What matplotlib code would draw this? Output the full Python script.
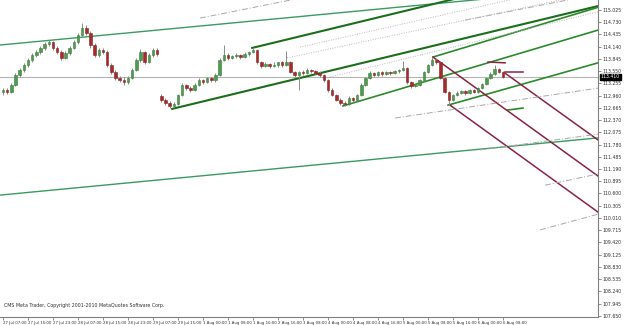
import matplotlib
matplotlib.use('Agg')
import matplotlib.pyplot as plt
import numpy as np

# ---- candle data (H1 bars, oldest first) ----
opens = [113.05, 113.10, 113.05, 113.22, 113.46, 113.58, 113.70, 113.82, 113.94, 114.01,
         114.11, 114.21, 114.25, 114.11, 114.01, 113.87, 113.99, 114.11, 114.25, 114.42,
         114.59, 114.47, 114.18, 113.94, 114.06, 114.01, 113.70, 113.53, 113.39, 113.34,
         113.29, 113.39, 113.58, 113.82, 114.01, 113.77, 113.94, 114.06, 112.95, 112.85,
         112.78, 112.71, 112.76, 112.97, 113.22, 113.14, 113.10, 113.22, 113.34, 113.29,
         113.39, 113.34, 113.46, 113.82, 113.94, 113.87, 113.92, 113.94, 113.89, 113.96,
         114.01, 114.06, 113.77, 113.67, 113.72, 113.67, 113.70, 113.77, 113.70, 113.77,
         113.53, 113.46, 113.53, 113.51, 113.58, 113.55, 113.51, 113.46, 113.34, 113.10,
         112.97, 112.85, 112.78, 112.76, 112.90, 112.85, 112.97, 113.22, 113.39, 113.51,
         113.46, 113.53, 113.48, 113.53, 113.51, 113.55, 113.58, 113.63, 113.29, 113.19,
         113.22, 113.34, 113.53, 113.70, 113.82, 113.77, 113.39, 113.05, 112.85, 112.97,
         113.02, 113.07, 113.02, 113.10, 113.05, 113.14, 113.24, 113.39, 113.48, 113.60,
         113.53]
highs = [113.14, 113.15, 113.26, 113.50, 113.62, 113.74, 113.86, 113.98, 114.05, 114.15,
         114.25, 114.30, 114.28, 114.16, 114.05, 114.03, 114.15, 114.30, 114.48, 114.71,
         114.66, 114.52, 114.22, 114.12, 114.10, 114.05, 113.74, 113.58, 113.44, 113.40,
         113.44, 113.62, 113.86, 114.08, 114.04, 113.98, 114.12, 114.10, 113.00, 112.90,
         112.82, 112.80, 113.00, 113.26, 113.25, 113.18, 113.26, 113.38, 113.37, 113.42,
         113.42, 113.50, 113.86, 114.18, 113.98, 113.95, 113.98, 113.96, 114.00, 114.04,
         114.12, 114.08, 113.80, 113.76, 113.75, 113.76, 113.78, 113.80, 114.04, 113.80,
         113.56, 113.55, 113.58, 113.62, 113.60, 113.58, 113.55, 113.49, 113.37, 113.14,
         113.00, 112.90, 112.84, 112.94, 112.93, 113.00, 113.26, 113.42, 113.55, 113.54,
         113.56, 113.56, 113.56, 113.55, 113.58, 113.60, 113.79, 113.66, 113.32, 113.25,
         113.37, 113.55, 113.72, 113.89, 113.85, 113.80, 113.42, 113.08, 112.99, 113.06,
         113.10, 113.10, 113.12, 113.12, 113.17, 113.27, 113.42, 113.52, 113.70, 113.62,
         113.56]
lows = [112.98, 113.00, 113.02, 113.18, 113.40, 113.52, 113.64, 113.78, 113.88, 113.96,
        114.06, 114.16, 114.05, 113.96, 113.82, 113.84, 113.95, 114.08, 114.20, 114.38,
        114.42, 114.12, 113.88, 113.90, 113.96, 113.65, 113.49, 113.34, 113.28, 113.22,
        113.25, 113.36, 113.55, 113.78, 113.72, 113.74, 113.90, 113.92, 112.80, 112.74,
        112.66, 112.68, 112.74, 112.95, 113.10, 113.05, 113.07, 113.18, 113.25, 113.26,
        113.30, 113.30, 113.44, 113.80, 113.82, 113.84, 113.86, 113.85, 113.86, 113.92,
        113.98, 113.72, 113.62, 113.64, 113.62, 113.64, 113.66, 113.66, 113.68, 113.50,
        113.40, 113.10, 113.46, 113.48, 113.50, 113.48, 113.42, 113.30, 113.05, 112.94,
        112.82, 112.74, 112.71, 112.73, 112.80, 112.82, 112.95, 113.18, 113.36, 113.42,
        113.43, 113.44, 113.45, 113.46, 113.48, 113.50, 113.56, 113.24, 113.14, 113.16,
        113.20, 113.32, 113.50, 113.67, 113.72, 113.36, 113.02, 112.73, 112.82, 112.95,
        113.00, 112.98, 113.00, 113.02, 113.02, 113.12, 113.22, 113.36, 113.46, 113.50,
        113.38]
closes = [113.10, 113.05, 113.22, 113.46, 113.58, 113.70, 113.82, 113.94, 114.01, 114.11,
          114.21, 114.25, 114.11, 114.01, 113.87, 113.99, 114.11, 114.25, 114.42, 114.59,
          114.47, 114.18, 113.94, 114.06, 114.01, 113.70, 113.53, 113.39, 113.34, 113.29,
          113.39, 113.58, 113.82, 114.01, 113.77, 113.94, 114.06, 113.96, 112.85, 112.78,
          112.71, 112.76, 112.97, 113.22, 113.14, 113.10, 113.22, 113.34, 113.29, 113.39,
          113.34, 113.46, 113.82, 113.94, 113.87, 113.92, 113.94, 113.89, 113.96, 114.01,
          114.06, 113.77, 113.67, 113.72, 113.67, 113.70, 113.77, 113.70, 113.77, 113.53,
          113.46, 113.53, 113.51, 113.58, 113.55, 113.51, 113.46, 113.34, 113.10, 112.97,
          112.85, 112.78, 112.76, 112.90, 112.85, 112.97, 113.22, 113.39, 113.51, 113.46,
          113.53, 113.48, 113.53, 113.51, 113.55, 113.58, 113.63, 113.29, 113.19, 113.22,
          113.34, 113.53, 113.70, 113.82, 113.77, 113.39, 113.05, 112.85, 112.97, 113.02,
          113.07, 113.02, 113.10, 113.05, 113.14, 113.24, 113.39, 113.48, 113.60, 113.53,
          113.41]

current_price = 113.41

# time labels, one every 6 bars
time_labels = ["27 Jul 07:00", "27 Jul 15:00", "27 Jul 23:00", "28 Jul 07:00", "28 Jul 15:00",
               "28 Jul 23:00", "29 Jul 07:00", "29 Jul 15:00", "1 Aug 00:00", "1 Aug 08:00",
               "1 Aug 16:00", "2 Aug 16:00", "3 Aug 08:00", "4 Aug 00:00", "4 Aug 08:00",
               "4 Aug 16:00", "5 Aug 00:00", "5 Aug 08:00", "5 Aug 16:00", "6 Aug 00:00",
               "6 Aug 08:00"]
label_step = 6

# price scale labels
price_labels = [115.025, 114.730, 114.435, 114.140, 113.845, 113.550, 113.255, 112.960,
                112.665, 112.370, 112.075, 111.780, 111.485, 111.190, 110.895, 110.600,
                110.305, 110.010, 109.715, 109.420, 109.125, 108.830, 108.535, 108.240,
                107.945, 107.650]

# ---- drawn objects: (bar, price) -> (bar, price) ----
channel_lines = [((-0.7, 114.18), (142.8, 115.55)),
                 ((-0.7, 110.56), (142.8, 111.94))]
fork1_lines = [((40.6, 112.64), (142.8, 115.12)),
               ((59.8, 114.11), (142.8, 116.13))]
fork2_lines = [((81.6, 112.71), (142.8, 114.54)),
               ((103.2, 113.89), (142.8, 115.09)),
               ((106.8, 112.73), (142.8, 113.75)),
               ((121.0, 112.61), (124.8, 112.66))]
red_lines = [((120.5, 113.50), (142.8, 111.89)),
             ((103.2, 113.89), (142.8, 111.02)),
             ((107.3, 112.73), (142.8, 110.15)),
             ((116.4, 113.77), (120.5, 113.75)),
             ((120.5, 113.53), (124.8, 113.53))]
dashdot_lines = [((47.3, 114.83), (71.3, 115.31)),
                 ((110.9, 114.78), (142.8, 115.41)),
                 ((94.1, 112.42), (142.8, 113.14)),
                 ((114.5, 111.65), (142.8, 112.03)),
                 ((130.1, 110.80), (142.8, 111.07)),
                 ((128.9, 109.72), (142.8, 110.10))]
dotted_lines = [((68.2, 113.87), (142.8, 115.46)),
                ((71.3, 114.13), (142.8, 115.75)),
                ((78.5, 113.41), (142.8, 114.98))]

fig = plt.figure(figsize=(6.25, 3.25), dpi=100)
ax = fig.add_axes([0, 8 / 325, 598 / 625, 317 / 325])
ax.set_xlim(-0.72, 142.8)
ax.set_ylim(107.62, 115.266)

# current price line
ax.axhline(current_price, color='#b4b4b4', lw=0.8, zorder=1)

# candles
x = np.arange(len(closes))
o = np.array(opens)
c = np.array(closes)
up = c >= o
ax.vlines(x, lows, highs, color='#8c8c8c', lw=0.7, zorder=3)
ax.bar(x[up], (c - o)[up], bottom=o[up], width=0.6, color='#4e9a4e',
       edgecolor='#3d7d3d', lw=0.4, zorder=4)
ax.bar(x[~up], (o - c)[~up], bottom=c[~up], width=0.6, color='#a52a2a',
       edgecolor='#8a2222', lw=0.4, zorder=4)

def draw(lines, **kw):
    for (b0, p0), (b1, p1) in lines:
        ax.plot([b0, b1], [p0, p1], **kw)

draw(channel_lines, color='#3a9a62', lw=1.0, zorder=2)
draw(fork1_lines, color='#1b6e1b', lw=1.5, zorder=2)
draw(fork2_lines, color='#2b8a2b', lw=1.2, zorder=2)
draw(red_lines, color='#8a2440', lw=1.1, zorder=2)
draw(dashdot_lines, color='#a8a8a8', lw=0.7, ls=(0, (6, 2, 1, 2)), zorder=2)
draw(dotted_lines, color='#b8b8b8', lw=0.7, ls=(0, (1, 1.5)), zorder=2)

# axes styling like the terminal
for s in ['top', 'left']:
    ax.spines[s].set_visible(False)
ax.spines['right'].set_color('#808080')
ax.spines['bottom'].set_color('#808080')
ax.spines['right'].set_linewidth(0.8)
ax.spines['bottom'].set_linewidth(0.8)

ax.yaxis.tick_right()
ax.set_yticks(price_labels)
ax.set_yticklabels(["%.3f" % p for p in price_labels])
ax.tick_params(axis='y', length=2, width=0.5, color='#606060', pad=1.5,
               labelsize=3.3, labelcolor='#303030')

tick_bars = [i * label_step for i in range(len(time_labels))]
ax.set_xticks(tick_bars)
ax.set_xticklabels(time_labels, ha='left')
ax.tick_params(axis='x', length=2, width=0.5, color='#606060', pad=0.8,
               labelsize=2.8, labelcolor='#303030')

# current price box on the scale
ax.annotate("%.3f" % current_price, xy=(1.0, current_price),
            xycoords=('axes fraction', 'data'), xytext=(2, 0),
            textcoords='offset points', ha='left', va='center', fontsize=3.3,
            color='white', bbox=dict(boxstyle='square,pad=0.15', fc='black', ec='black'))

fig.text(4 / 625, 1 - 305 / 325, "CMS Meta Trader, Copyright 2001-2010 MetaQuotes Software Corp.",
         fontsize=3.4, color='#303030', va='center')

fig.savefig('out.png', dpi=100)
